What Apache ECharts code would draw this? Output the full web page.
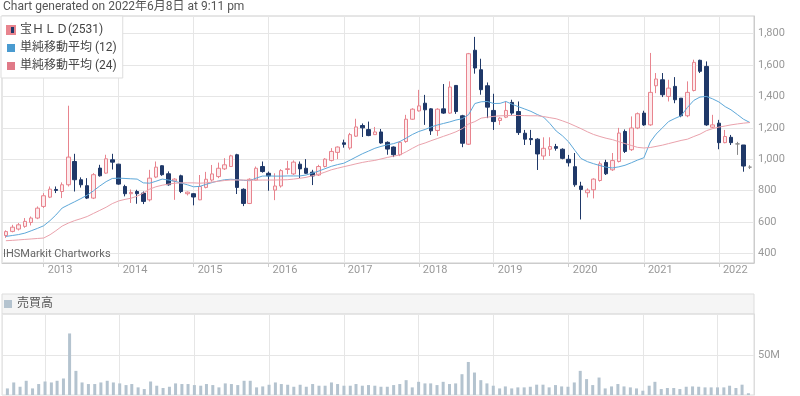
<!DOCTYPE html>
<html>
<head>
<meta charset="utf-8">
<script src="https://cdn.jsdelivr.net/npm/echarts@6/dist/echarts.min.js"></script>
<style>
    html, body {margin: 0; padding: 0; background: #fff;}
    #chart {width: 800px; height: 396px;}
</style>
</head>
<body>
<div id="chart"></div>
<script>
    // monthly bars, Jul 2012 - Jun 2022
    var months = [
        '2012-07','2012-08','2012-09','2012-10','2012-11','2012-12',
        '2013-01','2013-02','2013-03','2013-04','2013-05','2013-06','2013-07','2013-08','2013-09','2013-10','2013-11','2013-12',
        '2014-01','2014-02','2014-03','2014-04','2014-05','2014-06','2014-07','2014-08','2014-09','2014-10','2014-11','2014-12',
        '2015-01','2015-02','2015-03','2015-04','2015-05','2015-06','2015-07','2015-08','2015-09','2015-10','2015-11','2015-12',
        '2016-01','2016-02','2016-03','2016-04','2016-05','2016-06','2016-07','2016-08','2016-09','2016-10','2016-11','2016-12',
        '2017-01','2017-02','2017-03','2017-04','2017-05','2017-06','2017-07','2017-08','2017-09','2017-10','2017-11','2017-12',
        '2018-01','2018-02','2018-03','2018-04','2018-05','2018-06','2018-07','2018-08','2018-09','2018-10','2018-11','2018-12',
        '2019-01','2019-02','2019-03','2019-04','2019-05','2019-06','2019-07','2019-08','2019-09','2019-10','2019-11','2019-12',
        '2020-01','2020-02','2020-03','2020-04','2020-05','2020-06','2020-07','2020-08','2020-09','2020-10','2020-11','2020-12',
        '2021-01','2021-02','2021-03','2021-04','2021-05','2021-06','2021-07','2021-08','2021-09','2021-10','2021-11','2021-12',
        '2022-01','2022-02','2022-03','2022-04','2022-05','2022-06'
    ];

    var openPrice = [
        515, 541, 556, 573, 598, 626,
        700, 759, 808, 795, 838, 986, 870, 832, 753, 944, 912, 997,
        969, 827, 781, 795, 785, 742, 887, 959, 908, 862, 895, 781,
        781, 742, 821, 868, 890, 939, 954, 1029, 809, 719, 868, 954,
        911, 804, 830, 935, 907, 969, 943, 918, 900, 954, 993, 1044,
        1105, 1072, 1147, 1215, 1189, 1157, 1174, 1108, 1078, 1029, 1113, 1255,
        1308, 1357, 1321, 1183, 1321, 1294, 1470, 1277, 1096, 1694, 1570, 1468,
        1311, 1247, 1268, 1362, 1304, 1166, 1132, 1128, 1021, 1064, 1081, 1064,
        1000, 953, 830, 787, 806, 865, 980, 933, 986, 1177, 1061, 1199,
        1294, 1219, 1468, 1506, 1400, 1464, 1389, 1277, 1438, 1630, 1591, 1204,
        1230, 1106, 1140, 1098, 1091, 950
    ];
    var closePrice = [
        540, 568, 583, 605, 626, 689,
        768, 810, 802, 838, 1014, 870, 838, 753, 902, 895, 1003, 982,
        842, 781, 789, 781, 732, 880, 950, 902, 838, 874, 795, 791,
        760, 827, 873, 907, 943, 965, 1022, 821, 719, 873, 943, 922,
        894, 830, 928, 940, 982, 939, 911, 894, 954, 1001, 1050, 1078,
        1095, 1157, 1206, 1200, 1151, 1174, 1104, 1065, 1029, 1108, 1255, 1319,
        1340, 1315, 1181, 1319, 1294, 1460, 1304, 1102, 1672, 1581, 1443, 1332,
        1240, 1262, 1311, 1294, 1170, 1128, 1125, 1034, 1070, 1081, 1070, 1006,
        978, 838, 808, 804, 874, 971, 908, 992, 1167, 1050, 1199, 1290,
        1219, 1426, 1511, 1411, 1453, 1379, 1277, 1426, 1617, 1560, 1219, 1219,
        1106, 1145, 1106, 1098, 957, 950
    ];
    var lowPrice = [
        500, 535, 547, 564, 579, 619,
        690, 753, 785, 753, 827, 795, 820, 747, 747, 890, 908, 935,
        838, 764, 722, 717, 715, 732, 880, 895, 832, 742, 785, 770,
        707, 740, 815, 858, 880, 932, 954, 779, 702, 715, 864, 915,
        800, 740, 820, 905, 900, 881, 907, 836, 894, 948, 986, 1001,
        1074, 1061, 1142, 1142, 1147, 1157, 1099, 1029, 1014, 1020, 1105, 1251,
        1304, 1219, 1155, 1149, 1289, 1289, 1289, 1077, 1091, 1545, 1411, 1262,
        1187, 1219, 1262, 1283, 1155, 1091, 1091, 932, 996, 1021, 1055, 1000,
        954, 825, 617, 757, 751, 858, 900, 926, 980, 1040, 1053, 1192,
        1213, 1213, 1421, 1396, 1368, 1357, 1268, 1268, 1432, 1549, 1213, 1198,
        1064, 1102, 1091, 1028, 921, 938
    ];
    var highPrice = [
        548, 583, 594, 626, 636, 700,
        785, 827, 827, 853, 1341, 1035, 885, 880, 912, 965, 1029, 1035,
        971, 838, 808, 806, 795, 933, 986, 962, 923, 880, 902, 795,
        785, 900, 920, 964, 979, 1007, 1029, 1035, 815, 879, 954, 986,
        922, 911, 937, 990, 993, 986, 1001, 933, 965, 1007, 1071, 1082,
        1125, 1168, 1258, 1228, 1240, 1206, 1193, 1114, 1082, 1115, 1283, 1325,
        1442, 1410, 1325, 1325, 1479, 1496, 1470, 1283, 1677, 1779, 1640, 1489,
        1417, 1268, 1368, 1379, 1368, 1187, 1187, 1134, 1140, 1140, 1098, 1070,
        1028, 1040, 857, 815, 879, 986, 997, 1040, 1200, 1190, 1273, 1298,
        1309, 1677, 1549, 1549, 1506, 1523, 1389, 1496, 1634, 1634, 1623, 1283,
        1251, 1187, 1155, 1111, 1091, 962
    ];

    var ma12 = [
        509, 515, 521, 530, 545, 560,
        577, 610, 645, 690, 710, 730, 750, 772, 800, 830, 858, 878,
        880, 878, 876, 874, 850, 848, 860, 874, 868, 860, 849, 838,
        825, 828, 840, 852, 862, 870, 873, 870, 866, 864, 880, 893,
        894, 893, 893, 894, 894, 894, 900, 912, 925, 940, 955, 966,
        975, 995, 1014, 1035, 1052, 1070, 1082, 1092, 1100, 1113, 1135, 1158,
        1177, 1190, 1205, 1218, 1228, 1238, 1250, 1258, 1285, 1355, 1366, 1368,
        1355, 1356, 1368, 1350, 1335, 1320, 1305, 1285, 1268, 1228, 1180, 1150,
        1110, 1055, 1005, 985, 972, 960, 950, 945, 952, 962, 978, 995,
        1010, 1110, 1160, 1200, 1240, 1260, 1277, 1330, 1375, 1396, 1400, 1385,
        1365, 1335, 1315, 1285, 1255, 1234
    ];
    var ma24 = [
        482, 484, 487, 490, 493, 496,
        499, 520, 545, 575, 594, 610, 622, 636, 656, 675, 695, 718,
        735, 745, 752, 765, 785, 810, 825, 835, 842, 848, 850, 850,
        850, 848, 850, 855, 860, 865, 868, 868, 868, 867, 867, 868,
        868, 868, 869, 870, 874, 879, 885, 895, 905, 918, 933, 943,
        953, 962, 971, 980, 987, 993, 1002, 1012, 1020, 1028, 1048, 1070,
        1091, 1104, 1118, 1132, 1146, 1160, 1175, 1195, 1225, 1240, 1262, 1268,
        1273, 1277, 1278, 1279, 1279, 1278, 1277, 1277, 1272, 1265, 1258, 1245,
        1230, 1212, 1195, 1175, 1158, 1145, 1134, 1125, 1112, 1100, 1088, 1076,
        1072, 1075, 1082, 1090, 1100, 1110, 1120, 1128, 1145, 1160, 1182, 1195,
        1205, 1212, 1219, 1225, 1230, 1234
    ];

    // volume in millions of shares
    var volume = [
        8.3, 15.8, 10.4, 17.9, 8.3, 13.8,
        17, 15.8, 17.9, 20.8, 77.5, 30.4, 15.8, 13.8, 13.8, 15.8, 17.9, 15.8,
        14.6, 12.5, 13.8, 9.6, 7.5, 17, 11.7, 8.8, 10.4, 14.6, 13.8, 13.8,
        12.5, 11.7, 13.8, 12.5, 9.6, 14.6, 13.8, 12.5, 17.9, 17.9, 9.6, 10.8,
        12.9, 15.8, 13.8, 12.9, 10.4, 12.9, 10.4, 13.8, 11.7, 11.7, 15.8, 13.8,
        11.7, 11.7, 13.8, 11.7, 12.5, 11.7, 10.4, 10.4, 12.5, 13.8, 18.7, 9.6,
        16.6, 14.6, 14.6, 12.5, 16.6, 13.8, 14.6, 26.2, 41.6, 28.3, 18.7, 14.6,
        11.7, 8.3, 10.8, 8.3, 9.6, 9.6, 10.4, 13, 13, 9.6, 12.5, 10.8,
        10.4, 15.8, 30.4, 20, 12.5, 22, 8.3, 10.8, 13.8, 10.8, 9.6, 8.3,
        5.4, 11.7, 16.6, 7.5, 8.8, 8.8, 7.5, 10.4, 10.8, 10.4, 9.6, 9.6,
        9.6, 9.6, 11.7, 8.8, 13, 2.2
    ];

    var priceTicks = [400, 600, 800, 1000, 1200, 1400, 1600, 1800];
    var volumeTicks = [50];

    var stockName = '宝ＨＬＤ(2531)';
    var ma12Name = '単純移動平均 (12)';
    var ma24Name = '単純移動平均 (24)';
    var volumeName = '売買高';

    function toTime(m) {
        var p = m.split('-');
        return Date.UTC(+p[0], +p[1] - 1, 1);
    }

    var candleData = [];
    var ma12Data = [];
    var ma24Data = [];
    var volumeData = [];
    for (var i = 0; i < months.length; i++) {
        var t = toTime(months[i]);
        candleData.push([t, openPrice[i], closePrice[i], lowPrice[i], highPrice[i]]);
        ma12Data.push([t, ma12[i]]);
        ma24Data.push([t, ma24[i]]);
        volumeData.push([t, volume[i]]);
    }

    var upColor = '#e8848e';
    var downColor = '#1f3868';
    var xMin = Date.UTC(2012, 5, 12);
    var xMax = Date.UTC(2022, 5, 21);
    var gridLine = '#e6e6e6';

    var chart = echarts.init(document.getElementById('chart'));
    chart.setOption({
        animation: false,
        useUTC: true,
        backgroundColor: '#fff',
        textStyle: {fontFamily: 'Roboto, "Noto Sans CJK JP", sans-serif'},
        title: {
            text: 'Chart generated on 2022年6月8日 at 9:11 pm',
            left: 3,
            top: 1,
            padding: 0,
            textStyle: {fontSize: 12, fontWeight: 'normal', color: '#555'}
        },
        legend: [{
            orient: 'vertical',
            left: 1,
            top: 16,
            padding: [8, 6, 6, 5],
            itemGap: 6,
            itemWidth: 8,
            itemHeight: 8,
            icon: 'rect',
            backgroundColor: '#fff',
            borderColor: '#ddd',
            borderWidth: 1,
            textStyle: {fontSize: 12, color: '#444'},
            data: [
                {
                    name: stockName,
                    itemStyle: {
                        color: new echarts.graphic.LinearGradient(0, 0, 1, 0, [
                            {offset: 0, color: upColor}, {offset: 0.5, color: upColor},
                            {offset: 0.5, color: downColor}, {offset: 1, color: downColor}
                        ])
                    }
                },
                ma12Name,
                ma24Name
            ]
        }, {
            left: 2,
            top: 298,
            padding: [0, 0, 0, 2],
            itemWidth: 8,
            itemHeight: 8,
            icon: 'rect',
            textStyle: {fontSize: 12, color: '#555'},
            data: [volumeName]
        }],
        graphic: [{
            type: 'rect',
            z: -1,
            shape: {x: 2, y: 294, width: 752, height: 20},
            style: {fill: '#f5f5f5', stroke: '#ddd', lineWidth: 1}
        }, {
            type: 'text',
            left: 3,
            top: 249,
            z: 10,
            style: {text: 'IHSMarkit Chartworks', fontSize: 11, fill: '#666',
                fontFamily: 'Roboto, sans-serif'}
        }],
        grid: [
            {left: 2, right: 46, top: 16, height: 247, show: true, borderColor: '#ccc', borderWidth: 1},
            {left: 2, right: 46, top: 314, height: 81, show: true, borderColor: '#ddd', borderWidth: 1}
        ],
        xAxis: [{
            type: 'time',
            gridIndex: 0,
            min: xMin,
            max: xMax,
            splitNumber: 10,
            minInterval: 365 * 24 * 3600 * 1000,
            axisLine: {lineStyle: {color: '#ccc'}},
            axisTick: {show: true, length: 4, lineStyle: {color: '#ccc'}},
            axisLabel: {
                formatter: '{yyyy}',
                color: '#999',
                fontSize: 11,
                align: 'left',
                padding: [0, 0, 0, 4],
                margin: 2,
                showMinLabel: false,
                showMaxLabel: false
            },
            splitLine: {show: true, lineStyle: {color: gridLine}}
        }, {
            type: 'time',
            gridIndex: 1,
            min: xMin,
            max: xMax,
            splitNumber: 10,
            minInterval: 365 * 24 * 3600 * 1000,
            axisLine: {show: false},
            axisTick: {show: false},
            axisLabel: {show: false},
            splitLine: {show: true, lineStyle: {color: gridLine}}
        }],
        yAxis: [{
            type: 'value',
            gridIndex: 0,
            position: 'right',
            min: 340,
            max: 1912,
            axisLine: {show: true, lineStyle: {color: '#ccc'}},
            axisTick: {show: false, customValues: priceTicks},
            axisLabel: {
                customValues: priceTicks,
                color: '#999',
                fontSize: 11,
                margin: 4,
                formatter: function (v) {
                    return v.toLocaleString('en-US');
                }
            },
            splitLine: {show: true, lineStyle: {color: gridLine}}
        }, {
            type: 'value',
            gridIndex: 1,
            position: 'right',
            min: 0,
            max: 102,
            axisLine: {show: true, lineStyle: {color: '#ddd'}},
            axisTick: {show: false, customValues: volumeTicks},
            axisLabel: {
                customValues: volumeTicks,
                color: '#999',
                fontSize: 11,
                margin: 4,
                formatter: '{value}M'
            },
            splitLine: {show: true, lineStyle: {color: gridLine}}
        }],
        series: [{
            name: stockName,
            type: 'candlestick',
            xAxisIndex: 0,
            yAxisIndex: 0,
            barWidth: 4,
            itemStyle: {
                color: '#fdebed',
                color0: downColor,
                borderColor: upColor,
                borderColor0: downColor,
                borderColorDoji: '#888',
                borderWidth: 1
            },
            data: candleData
        }, {
            name: ma12Name,
            type: 'line',
            xAxisIndex: 0,
            yAxisIndex: 0,
            symbol: 'none',
            lineStyle: {width: 1, color: '#5ea8d9'},
            itemStyle: {color: '#4a9bd0'},
            data: ma12Data
        }, {
            name: ma24Name,
            type: 'line',
            xAxisIndex: 0,
            yAxisIndex: 0,
            symbol: 'none',
            lineStyle: {width: 1, color: '#eaa2ac'},
            itemStyle: {color: '#e07a88'},
            data: ma24Data
        }, {
            name: volumeName,
            type: 'bar',
            xAxisIndex: 1,
            yAxisIndex: 1,
            barWidth: 3,
            itemStyle: {color: '#b4c3cf'},
            data: volumeData
        }]
    });
</script>
</body>
</html>
